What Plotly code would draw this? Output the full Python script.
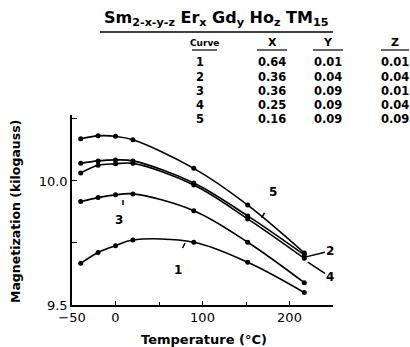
import plotly.graph_objects as go

# ---- data ----
temps = [-40, -20, 0, 20, 90, 152, 217]
curve1 = [9.668, 9.712, 9.739, 9.762, 9.753, 9.672, 9.550]
curve2 = [10.071, 10.081, 10.085, 10.081, 9.992, 9.859, 9.702]
curve3 = [9.917, 9.933, 9.944, 9.948, 9.880, 9.753, 9.590]
curve4 = [10.032, 10.063, 10.069, 10.071, 9.984, 9.847, 9.688]
curve5 = [10.170, 10.182, 10.180, 10.166, 10.051, 9.903, 9.710]

table_curves = ["1", "2", "3", "4", "5"]
table_x = ["0.64", "0.36", "0.36", "0.25", "0.16"]
table_y = ["0.01", "0.04", "0.09", "0.09", "0.09"]
table_z = ["0.01", "0.04", "0.01", "0.04", "0.09"]

x_ticks = [-50, 0, 100, 200]
y_ticks = [9.5, 10.0]
y_ticktext = ["9.5", "10.0"]

FONT = "DejaVu Sans"
W, H = 410, 347
L, R, T, B = 72, 77, 115, 42
PW, PH = W - L - R, H - T - B


def px(xp):
    return (xp - L) / PW


def py(yp):
    return (H - B - yp) / PH


fig = go.Figure()
for ys in [curve1, curve2, curve3, curve4, curve5]:
    fig.add_trace(go.Scatter(
        x=temps, y=ys, mode="lines+markers",
        line=dict(color="black", width=1.6, shape="spline", smoothing=1.0),
        marker=dict(color="black", size=5),
        showlegend=False, hoverinfo="skip"))

anns = []
shapes = []

# title
anns.append(dict(xref="paper", yref="paper", x=px(216), y=py(18),
                 text="<b>Sm<sub>2-x-y-z</sub> Er<sub>x</sub> Gd<sub>y</sub> Ho<sub>z</sub> TM<sub>15</sub></b>",
                 showarrow=False, font=dict(family=FONT, size=16, color="black"),
                 xanchor="center", yanchor="middle"))
shapes.append(dict(type="line", xref="paper", yref="paper",
                   x0=px(100), x1=px(333), y0=py(32), y1=py(32),
                   line=dict(color="black", width=1.5)))

# table
col_x = [204, 272, 328, 395]
headers = ["Curve", "X", "Y", "Z"]
head_sz = [9, 11, 11, 11]
ul = [(192, 217), (257, 287), (313, 343), (381, 409)]
for cx, hd, hs, (u0, u1) in zip(col_x, headers, head_sz, ul):
    anns.append(dict(xref="paper", yref="paper", x=px(cx), y=py(43), text="<b>" + hd + "</b>",
                     showarrow=False, font=dict(family=FONT, size=hs, color="black"),
                     xanchor="center", yanchor="middle"))
    shapes.append(dict(type="line", xref="paper", yref="paper",
                       x0=px(u0), x1=px(u1), y0=py(50), y1=py(50),
                       line=dict(color="black", width=1.2)))
row_y = [62, 77, 91, 105, 119]
for i, ry in enumerate(row_y):
    for cx, col in zip([200, 272, 328, 395], [table_curves, table_x, table_y, table_z]):
        anns.append(dict(xref="paper", yref="paper", x=px(cx), y=py(ry), text="<b>" + col[i] + "</b>",
                         showarrow=False, font=dict(family=FONT, size=11.5, color="black"),
                         xanchor="center", yanchor="middle"))

# axis titles
anns.append(dict(xref="paper", yref="paper", x=px(15), y=py(212), text="<b>Magnetization (kilogauss)</b>",
                 textangle=-90, showarrow=False, font=dict(family=FONT, size=12.5, color="black"),
                 xanchor="center", yanchor="middle"))
anns.append(dict(xref="paper", yref="paper", x=px(204), y=py(339), text="<b>Temperature (°C)</b>",
                 showarrow=False, font=dict(family=FONT, size=13, color="black"),
                 xanchor="center", yanchor="middle"))

# curve labels
lab_font = dict(family=FONT, size=12, color="black")
anns.append(dict(x=72, y=9.641, text="<b>1</b>", showarrow=False, font=lab_font))
anns.append(dict(x=4, y=9.843, text="<b>3</b>", showarrow=False, font=lab_font))
anns.append(dict(x=181, y=9.956, text="<b>5</b>", showarrow=False, font=lab_font))
anns.append(dict(x=219, y=9.694, ax=247, ay=9.718, axref="x", ayref="y", text="<b>2</b>",
                 showarrow=True, arrowhead=0, arrowwidth=1.5, arrowcolor="black", font=lab_font))
anns.append(dict(x=221, y=9.673, ax=247, ay=9.613, axref="x", ayref="y", text="<b>4</b>",
                 showarrow=True, arrowhead=0, arrowwidth=1.5, arrowcolor="black", font=lab_font))

# small pointer ticks on curves
for (x0, y0, x1, y1) in [(77.2, 9.730, 79.9, 9.750), (8.6, 9.923, 8.6, 9.903), (168, 9.851, 171.3, 9.871)]:
    shapes.append(dict(type="line", xref="x", yref="y", x0=x0, y0=y0, x1=x1, y1=y1,
                       line=dict(color="black", width=1.5)))

fig.update_layout(
    width=W, height=H, margin=dict(l=L, r=R, t=T, b=B),
    paper_bgcolor="white", plot_bgcolor="white",
    annotations=anns, shapes=shapes,
    xaxis=dict(range=[-50, 250], tickvals=x_ticks, ticks="inside", ticklen=4,
               tickcolor="black", showgrid=False, zeroline=False,
               showline=True, linecolor="black", linewidth=1.5,
               minor=dict(dtick=50, tick0=0, ticks="inside", ticklen=3, tickcolor="black"),
               tickfont=dict(family=FONT, size=13, color="black")),
    yaxis=dict(range=[9.5, 10.266], tickvals=y_ticks, ticktext=y_ticktext, ticks="inside",
               ticklen=5, tickcolor="black", showgrid=False, zeroline=False,
               showline=True, linecolor="black", linewidth=1.5,
               minor=dict(tickvals=[9.75, 10.25], ticks="inside", ticklen=5, tickcolor="black"),
               tickfont=dict(family=FONT, size=13, color="black")),
)

fig.write_html("out.html")
